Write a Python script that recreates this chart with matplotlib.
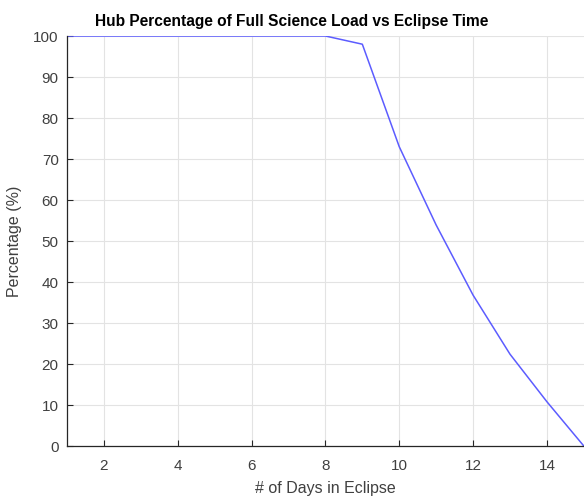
import matplotlib
matplotlib.use("Agg")
import matplotlib.pyplot as plt

days = [1, 2, 3, 4, 5, 6, 7, 8, 9, 10, 11, 12, 13, 14, 15]
pct = [100, 100, 100, 100, 100, 100, 100, 100, 98.0, 73.0, 53.9, 36.8, 22.4, 10.8, 0]

plt.rcParams['font.family'] = ['Liberation Sans', 'DejaVu Sans']

fig = plt.figure(figsize=(5.84, 4.98), dpi=100)
ax = fig.add_axes([0.1147, 0.1044, 0.885, 0.8233])

ax.plot(days, pct, color='#5c5cff', linewidth=1.1)

ax.set_xlim(1, 15)
ax.set_ylim(0, 100)
ax.set_xticks([2, 4, 6, 8, 10, 12, 14])
ax.set_yticks(range(0, 101, 10))
ax.grid(True, color='#e3e3e3', linewidth=0.8)
ax.set_axisbelow(True)
for s in ['top', 'right']:
    ax.spines[s].set_visible(False)
for s in ['left', 'bottom']:
    ax.spines[s].set_color('#262626')
    ax.spines[s].set_linewidth(0.9)
ax.tick_params(direction='in', length=4, colors='#262626', labelsize=11, pad=6)
ax.tick_params(axis='x', pad=9)
for lbl in ax.get_xticklabels() + ax.get_yticklabels():
    lbl.set_color('#404040')

ax.set_xlabel('# of Days in Eclipse', fontsize=11.5, color='#404040', labelpad=6)
ax.set_ylabel('Percentage (%)', fontsize=11.5, color='#404040', labelpad=8)
fig.text(0.5, 0.957, 'Hub Percentage of Full Science Load vs Eclipse Time',
         fontsize=11.2, fontweight='bold', color='black', ha='center', va='center')

fig.savefig('out.png', dpi=100)
